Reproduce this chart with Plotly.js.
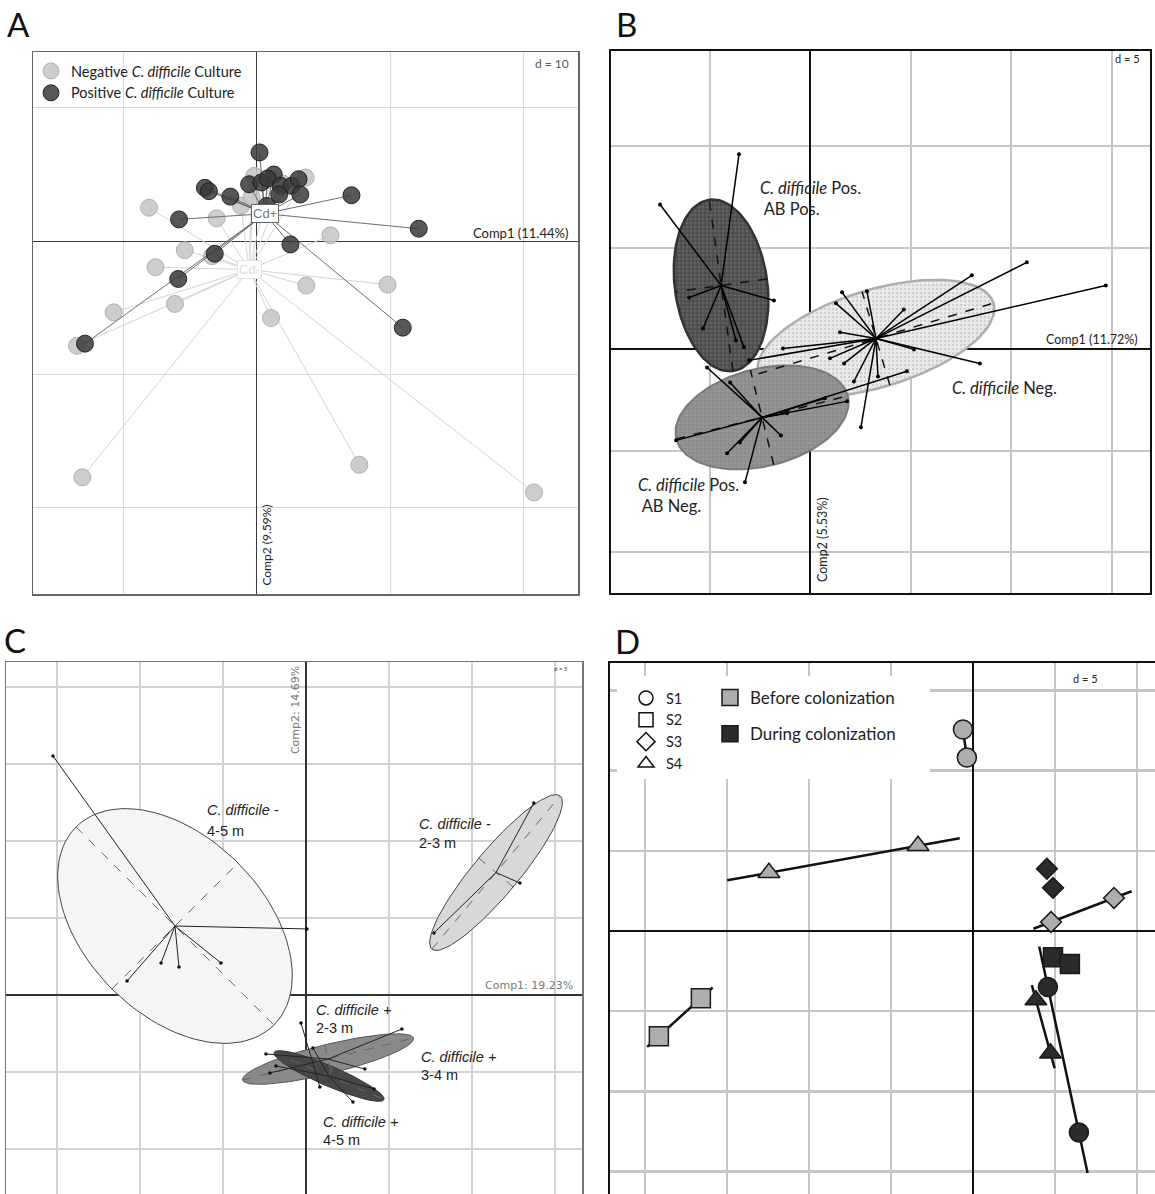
<!DOCTYPE html>
<html><head><meta charset="utf-8">
<script src="https://cdn.plot.ly/plotly-3.0.1.min.js"></script>
<style>html,body{margin:0;padding:0;background:#fff}#chart{width:1155px;height:1194px}</style>
</head><body><div id="chart"></div>
<script>
// ---------------- Panel A data (d = 10) ----------------
const aNegX = [-8.09, -3.02, -1.19, 3.66, -0.19, 5.52, -5.41, -7.61, -3.37, 3.71, 9.81, -6.15, -10.74, -13.5, 1.06, -13.1, 7.69, 20.8, 1.0, 2.0, -0.4];
const aNegY = [2.51, 1.71, 2.64, 4.77, 4.9, 0.43, -0.68, -1.96, -1.13, -3.34, -3.27, -4.72, -5.35, -7.86, -5.78, -17.74, -16.8, -18.87, 4.6, 4.3, 3.3];
const aPosX = [0.2, -3.9, -3.6, -1.99, -0.58, 0.34, 1.27, 0.8, 1.8, 2.6, 3.13, 3.26, 1.67, 7.1, -5.84, 12.15, 2.52, -3.16, -5.9, -12.9, 10.95, 0.74];
const aPosY = [6.66, 4.0, 3.75, 3.34, 4.27, 4.4, 5.0, 4.7, 4.15, 4.15, 4.65, 3.5, 3.5, 3.44, 1.63, 0.93, -0.25, -0.95, -2.84, -7.7, -6.5, 2.64];
const aCentNeg = [-0.58, -2.14];
const aCentPos = [0.61, 2.06];
const aLegendNames = ['Negative <i>C. difficile</i> Culture', 'Positive <i>C. difficile</i> Culture'];

// ---------------- Panel B data (d = 5) ----------------
const bNegX = [10.77, 8.03, 14.70, 1.57, 2.81, 1.27, 4.65, 1.47, -1.37, -3.06, 0.97, 1.67, 2.16, 3.36, 2.51, 8.43, 5.15];
const bNegY = [4.29, 3.65, 3.15, 2.81, 2.86, 2.27, 1.97, 0.84, 0.05, -0.54, -0.44, -0.69, -1.58, -1.33, -3.84, -0.69, 0.0];
const bNegC = [3.26, 0.54];
const bNegE = [5.85, 1.74, -0.69, 2.30];
const bABNegX = [-6.69, -5.15, -4.00, -4.15, -3.26, -1.47, 4.80, 1.82, 0.72, -1.17, -3.51];
const bABNegY = [-4.48, -0.89, -1.63, -5.12, -6.55, -4.24, -1.08, -2.56, -2.41, -3.15, -4.58];
const bABNegC = [-2.41, -3.35];
const bABNegE = [4.27, 1.06, -0.58, 2.33];
const bABPosX = [-3.56, -7.49, -6.04, -1.82, -5.35, -3.31, -3.71];
const bABPosY = [9.61, 7.14, 2.56, 2.41, 1.03, 0.10, 0.44];
const bABPosC = [-4.45, 3.15];
const bABPosE = [-0.59, 4.22, -2.28, -0.32];

// ---------------- Panel C data (d = 5) ----------------
const cNeg45X = [-15.24, 0.06, -8.73, -7.65, -5.12, -10.78];
const cNeg45Y = [15.52, 4.29, 2.08, 1.82, 2.08, 0.91];
const cNeg45C = [-7.89, 4.48];
const cNeg45E = [5.96, -6.43, 3.80, 4.09];
const cNeg23X = [13.73, 7.71, 12.89];
const cNeg23Y = [12.47, 4.03, 7.27];
const cNeg23C = [11.45, 7.95];
const cNeg23E = [3.86, 4.97, 1.04, -0.94];
const cPos23X = [-0.30, 0.84];
const cPos23Y = [-1.82, -5.97];
const cPos23C = [0.27, -3.90];
const cPos34X = [5.78, -2.41, -2.17, 3.55];
const cPos34Y = [-2.21, -3.83, -5.06, -4.81];
const cPos34C = [1.33, -4.16];
const cPos34E = [5.15, 1.36, 0.21, -0.92];
const cPos45X = [4.10, 2.83, -1.81, 0.42];
const cPos45Y = [-6.10, -6.95, -4.61, -3.44];
const cPos45C = [1.39, -5.26];
const cPos45E = [3.31, -1.53, -0.24, -0.60];

// ---------------- Panel D data (d = 5) ----------------
const dSubjects = ['S1', 'S2', 'S3', 'S4'];
const dPhases = ['Before colonization', 'During colonization'];
const dBeforeX = [[-0.61, -0.37], [-19.15, -16.59], [4.76, 8.60], [-12.44, -3.35]];
const dBeforeY = [[12.56, 10.81], [-6.56, -4.19], [0.56, 2.06], [3.63, 5.31]];
const dDuringX = [[4.57, 6.46], [4.88, 5.91], [4.51, 4.88], [3.84, 4.73]];
const dDuringY = [[-3.5, -12.56], [-1.63, -2.06], [3.88, 2.69], [-4.31, -7.63]];
const dBeforeTraj = [true, true, true, true];
const dDuringTraj = [true, false, false, true];

// ---------------- helpers ----------------
const W = 1155, H = 1194;
const PX = v => v / W, PY = v => 1 - v / H;
const traces = [];
function add(t) { traces.push(Object.assign({type: 'scatter', hoverinfo: 'skip', showlegend: false}, t)); }
function ellipse(c, e) {
  const xs = [], ys = [];
  for (let i = 0; i <= 120; i++) { const t = 2 * Math.PI * i / 120;
    xs.push(c[0] + e[0] * Math.cos(t) + e[2] * Math.sin(t));
    ys.push(c[1] + e[1] * Math.cos(t) + e[3] * Math.sin(t)); }
  return {x: xs, y: ys};
}
function star(c, X, Y) {
  const xs = [], ys = [];
  X.forEach((x, i) => { xs.push(c[0], x, null); ys.push(c[1], Y[i], null); });
  return {x: xs, y: ys};
}
function ellAxes(c, e) {
  return {x: [c[0] - e[0], c[0] + e[0], null, c[0] - e[2], c[0] + e[2]],
          y: [c[1] - e[1], c[1] + e[1], null, c[1] - e[3], c[1] + e[3]]};
}
const FONT = 'Lato, "Open Sans", sans-serif';
const NARROW = '"Liberation Sans Narrow", "Liberation Sans", sans-serif';

// ---------------- Panel A traces ----------------
let s = star(aCentNeg, aNegX, aNegY);
add({x: s.x, y: s.y, xaxis: 'x', yaxis: 'y', mode: 'lines', line: {color: '#d4d4d4', width: 1}});
add({x: aNegX, y: aNegY, xaxis: 'x', yaxis: 'y', mode: 'markers', name: aLegendNames[0], showlegend: true, legend: 'legend',
     marker: {size: 17, color: 'rgba(196,196,196,0.85)', line: {color: 'rgba(170,170,170,0.9)', width: 1}}});
s = star(aCentPos, aPosX, aPosY);
add({x: s.x, y: s.y, xaxis: 'x', yaxis: 'y', mode: 'lines', line: {color: '#6e6e6e', width: 1}});
add({x: aPosX, y: aPosY, xaxis: 'x', yaxis: 'y', mode: 'markers', name: aLegendNames[1], showlegend: true, legend: 'legend',
     marker: {size: 17, color: 'rgba(58,58,58,0.85)', line: {color: 'rgba(25,25,25,0.9)', width: 1}}});

// ---------------- Panel B traces ----------------
const bGroups = [
  {X: bNegX, Y: bNegY, C: bNegC, E: bNegE, fill: '#e6e6e6', edge: '#adadad', ew: 2.5, pat: {shape: '.', fgcolor: '#cfcfcf', bgcolor: '#ebebeb', size: 4, solidity: 0.3}},
  {X: bABNegX, Y: bABNegY, C: bABNegC, E: bABNegE, fill: '#8f8f8f', edge: '#7a7a7a', ew: 2, pat: {shape: '+', fgcolor: '#808080', bgcolor: '#979797', size: 4, solidity: 0.3}},
  {X: bABPosX, Y: bABPosY, C: bABPosC, E: bABPosE, fill: '#555555', edge: '#333333', ew: 2.5, pat: {shape: '+', fgcolor: '#3d3d3d', bgcolor: '#616161', size: 4, solidity: 0.35}}
];
bGroups.forEach(g => { const e = ellipse(g.C, g.E);
  add({x: e.x, y: e.y, xaxis: 'x2', yaxis: 'y2', mode: 'lines', fill: 'toself', fillcolor: g.fill, fillpattern: g.pat, line: {color: g.edge, width: g.ew}}); });
bGroups.forEach(g => { const a = ellAxes(g.C, g.E);
  add({x: a.x, y: a.y, xaxis: 'x2', yaxis: 'y2', mode: 'lines', line: {color: '#111', width: 1.5, dash: 'dash'}});
  const st = star(g.C, g.X, g.Y);
  add({x: st.x, y: st.y, xaxis: 'x2', yaxis: 'y2', mode: 'lines', line: {color: '#000', width: 1.5}});
  add({x: g.X, y: g.Y, xaxis: 'x2', yaxis: 'y2', mode: 'markers', marker: {size: 4, color: '#000'}}); });

// ---------------- Panel C traces ----------------
const cEll = [
  {C: cNeg45C, E: cNeg45E, fill: '#f5f5f5', edge: '#444'},
  {C: cNeg23C, E: cNeg23E, fill: '#d8d8d8', edge: '#444'},
  {C: cPos34C, E: cPos34E, fill: '#8a8a8a', edge: '#555'},
  {C: cPos45C, E: cPos45E, fill: '#474747', edge: '#333'}
];
cEll.forEach(g => { const e = ellipse(g.C, g.E);
  add({x: e.x, y: e.y, xaxis: 'x3', yaxis: 'y3', mode: 'lines', fill: 'toself', fillcolor: g.fill, line: {color: g.edge, width: 1}}); });
cEll.forEach(g => { const a = ellAxes(g.C, g.E);
  add({x: a.x, y: a.y, xaxis: 'x3', yaxis: 'y3', mode: 'lines', line: {color: '#666', width: 1, dash: 'dash'}}); });
[[cNeg45C, cNeg45X, cNeg45Y], [cNeg23C, cNeg23X, cNeg23Y], [cPos23C, cPos23X, cPos23Y], [cPos34C, cPos34X, cPos34Y], [cPos45C, cPos45X, cPos45Y]].forEach(g => {
  const st = star(g[0], g[1], g[2]);
  add({x: st.x, y: st.y, xaxis: 'x3', yaxis: 'y3', mode: 'lines', line: {color: '#222', width: 1}});
  add({x: g[1], y: g[2], xaxis: 'x3', yaxis: 'y3', mode: 'markers', marker: {size: 3.5, color: '#111'}}); });

// ---------------- Panel D traces ----------------
const dSymbols = ['circle', 'square', 'diamond', 'triangle-up'];
const dSizes = [19, 19, 16, 19];
const dColors = ['#adadad', '#2b2b2b'];
function traj(X, Y) { const vx = X[1] - X[0], vy = Y[1] - Y[0], k = 0.28;
  return {x: [X[0] - k * vx, X[1] + k * vx], y: [Y[0] - k * vy, Y[1] + k * vy]}; }
[[dBeforeX, dBeforeY, dBeforeTraj], [dDuringX, dDuringY, dDuringTraj]].forEach(p => {
  dSubjects.forEach((sName, i) => { if (p[2][i]) { const t = traj(p[0][i], p[1][i]);
    add({x: t.x, y: t.y, xaxis: 'x4', yaxis: 'y4', mode: 'lines', line: {color: '#111', width: 2.5}}); } }); });
[[dBeforeX, dBeforeY], [dDuringX, dDuringY]].forEach((p, ph) => {
  dSubjects.forEach((sName, i) => {
    add({x: p[0][i], y: p[1][i], xaxis: 'x4', yaxis: 'y4', mode: 'markers',
         marker: {symbol: dSymbols[i], size: dSizes[i], color: dColors[ph], line: {color: '#1a1a1a', width: 1.5}}}); }); });
// legend entries for panel D
dSubjects.forEach((sName, i) => add({x: [null], y: [null], xaxis: 'x4', yaxis: 'y4', mode: 'markers', name: sName, showlegend: true, legend: 'legend2',
  marker: {symbol: dSymbols[i] + '-open', size: 14, color: '#111', line: {color: '#111', width: 1.5}}}));
dPhases.forEach((pName, i) => add({x: [null], y: [null], xaxis: 'x4', yaxis: 'y4', mode: 'markers', name: pName, showlegend: true, legend: 'legend3', legendgroup: 'g' + i,
  marker: {symbol: 'square', size: 16, color: dColors[i], line: {color: '#1a1a1a', width: 1.5}}}));

// ---------------- axes ----------------
function axis(dom, range, dtick, st, extra) {
  return Object.assign({domain: dom, range: range, dtick: dtick, tick0: 0, showgrid: true, gridcolor: st.grid, gridwidth: st.gw,
    zeroline: true, zerolinecolor: st.zero, zerolinewidth: st.zw, showline: true, linecolor: st.line, linewidth: st.lw, mirror: true,
    showticklabels: false, ticks: '', fixedrange: true}, extra || {});
}
const stA = {grid: '#dadada', gw: 1, zero: '#3a3a3a', zw: 1.2, line: '#666', lw: 1.5};
const stB = {grid: '#c6c6c6', gw: 2, zero: '#111', zw: 2, line: '#111', lw: 2};
const stC = {grid: '#d2d2d2', gw: 1.5, zero: '#333', zw: 1.5, line: '#777', lw: 1.5};
const stD = {grid: '#c6c6c6', gw: 2.5, zero: '#111', zw: 2, line: '#111', lw: 2};

function ann(xr, yr, x, y, text, size, o) {
  return Object.assign({xref: xr, yref: yr, x: x, y: y, text: text, showarrow: false, font: {family: FONT, size: size, color: '#222'}}, o || {});
}
const letterOpts = {xanchor: 'center', yanchor: 'middle', font: {family: FONT, size: 33, color: '#111'}};
const annotations = [
  // panel letters
  ann('paper', 'paper', PX(18), PY(24), 'A', 33, letterOpts),
  ann('paper', 'paper', PX(626), PY(24), 'B', 33, letterOpts),
  ann('paper', 'paper', PX(15), PY(640), 'C', 33, letterOpts),
  ann('paper', 'paper', PX(627), PY(641), 'D', 33, letterOpts),
  // A
  ann('x', 'y', 23.5, 0.6, 'Comp1 (11.44%)', 13, {xanchor: 'right', yanchor: 'middle'}),
  ann('x', 'y', 0.75, -22.8, 'Comp2 (9.59%)', 12, {textangle: -90}),
  ann('x', 'y', 23.6, 13.36, 'd = 10', 12, {xanchor: 'right', font: {family: FONT, size: 12, color: '#555'}}),
  ann('x', 'y', aCentPos[0], aCentPos[1], 'Cd+', 13, {bgcolor: '#fff', bordercolor: '#666', borderwidth: 1, borderpad: 1, font: {family: '"Liberation Sans", sans-serif', size: 13, color: '#777'}}),
  ann('x', 'y', aCentNeg[0], aCentNeg[1], 'Cd-', 13, {bgcolor: '#fff', bordercolor: '#e2e2e2', borderwidth: 1, borderpad: 1, font: {family: '"Liberation Sans", sans-serif', size: 13, color: '#dcdcdc'}}),
  // B
  ann('x2', 'y2', -2.6, 7.41, '<i>C. difficile</i> Pos.<br>&nbsp;AB Pos.', 16.5, {xanchor: 'left', yanchor: 'middle', align: 'left'}),
  ann('x2', 'y2', 6.94, -1.92, '<i>C. difficile</i> Neg.', 16.5, {xanchor: 'left', yanchor: 'middle'}),
  ann('x2', 'y2', -8.68, -7.19, '<i>C. difficile</i> Pos.<br>&nbsp;AB Neg.', 16.5, {xanchor: 'left', yanchor: 'middle', align: 'left'}),
  ann('x2', 'y2', 16.4, 0.5, 'Comp1 (11.72%)', 12.5, {xanchor: 'right', yanchor: 'middle'}),
  ann('x2', 'y2', 0.6, -9.41, 'Comp2 (5.53%)', 12.5, {textangle: -90}),
  ann('x2', 'y2', 16.5, 14.33, 'd = 5', 11, {xanchor: 'right'}),
  // C
  ann('x3', 'y3', 16.2, 0.6, 'Comp1: 19.23%', 11, {xanchor: 'right', font: {family: '"DejaVu Sans", sans-serif', size: 11, color: '#777'}}),
  ann('x3', 'y3', -0.66, 18.5, 'Comp2: 14.69%', 11, {textangle: -90, font: {family: '"DejaVu Sans", sans-serif', size: 11, color: '#777'}}),
  ann('x3', 'y3', 15.9, 21.2, 'd = 5', 6, {xanchor: 'right', font: {family: FONT, size: 6, color: '#333'}}),
  // D
  ann('x4', 'y4', 7.74, 15.77, 'd = 5', 11, {xanchor: 'right'})
];
const cLabels = [
  [-6.08, 12.01, 10.65, '<i>C. difficile</i> -', '4-5 m'],
  [6.69, 11.10, 9.87, '<i>C. difficile</i> -', '2-3 m'],
  [0.48, -0.97, -2.14, '<i>C. difficile +</i>', '2-3 m'],
  [6.81, -4.03, -5.19, '<i>C. difficile +</i>', '3-4 m'],
  [0.90, -8.25, -9.42, '<i>C. difficile +</i>', '4-5 m']
];
cLabels.forEach(l => {
  annotations.push(ann('x3', 'y3', l[0], l[1], l[3], 14.5, {xanchor: 'left', yanchor: 'middle', font: {family: NARROW, size: 14.5, color: '#222'}}));
  annotations.push(ann('x3', 'y3', l[0], l[2], l[4], 14.5, {xanchor: 'left', yanchor: 'middle', font: {family: NARROW, size: 14.5, color: '#222'}}));
});

const layout = {
  width: W, height: H, margin: {l: 0, r: 0, t: 0, b: 0}, paper_bgcolor: '#fff', plot_bgcolor: '#fff',
  xaxis: axis([PX(33), PX(578)], [-16.8, 24.1], 10, stA, {anchor: 'y'}),
  yaxis: axis([PY(594), PY(52)], [-26.5, 14.2], 10, stA, {anchor: 'x'}),
  xaxis2: axis([PX(611), PX(1150)], [-9.93, 16.9], 5, stB, {anchor: 'y2'}),
  yaxis2: axis([PY(593), PY(51)], [-12.0, 14.7], 5, stB, {anchor: 'x2'}),
  xaxis3: axis([PX(6), PX(582)], [-18.07, 16.63], 5, stC, {anchor: 'y3', side: 'top', mirror: false}),
  yaxis3: axis([0, PY(662)], [-12.92, 21.62], 5, stC, {anchor: 'x3'}),
  xaxis4: axis([PX(610), 1], [-22.13, 11.10], 5, stD, {anchor: 'y4', side: 'top', mirror: false}),
  yaxis4: axis([0, PY(663)], [-16.40, 16.71], 5, stD, {anchor: 'x4', mirror: false}),
  shapes: [
    {type: 'rect', xref: 'paper', yref: 'paper', x0: PX(617), x1: PX(930), y0: PY(779), y1: PY(676), fillcolor: '#fff', line: {width: 0}, layer: 'above'}
  ],
  annotations: annotations,
  legend: {x: PX(31), y: PY(55), xanchor: 'left', yanchor: 'top', bgcolor: 'rgba(0,0,0,0)', borderwidth: 0,
           font: {family: FONT, size: 14.5, color: '#222'}, traceorder: 'grouped', tracegroupgap: 3},
  legend2: {x: PX(626), y: PY(682), xanchor: 'left', yanchor: 'top', bgcolor: 'rgba(0,0,0,0)', borderwidth: 0,
            font: {family: FONT, size: 14.5, color: '#222'}},
  legend3: {x: PX(710), y: PY(680), xanchor: 'left', yanchor: 'top', bgcolor: 'rgba(0,0,0,0)', borderwidth: 0,
            font: {family: FONT, size: 17, color: '#222'}, traceorder: 'grouped', tracegroupgap: 11}
};
Plotly.newPlot('chart', traces, layout, {staticPlot: true, displayModeBar: false});
</script>
</body></html>
